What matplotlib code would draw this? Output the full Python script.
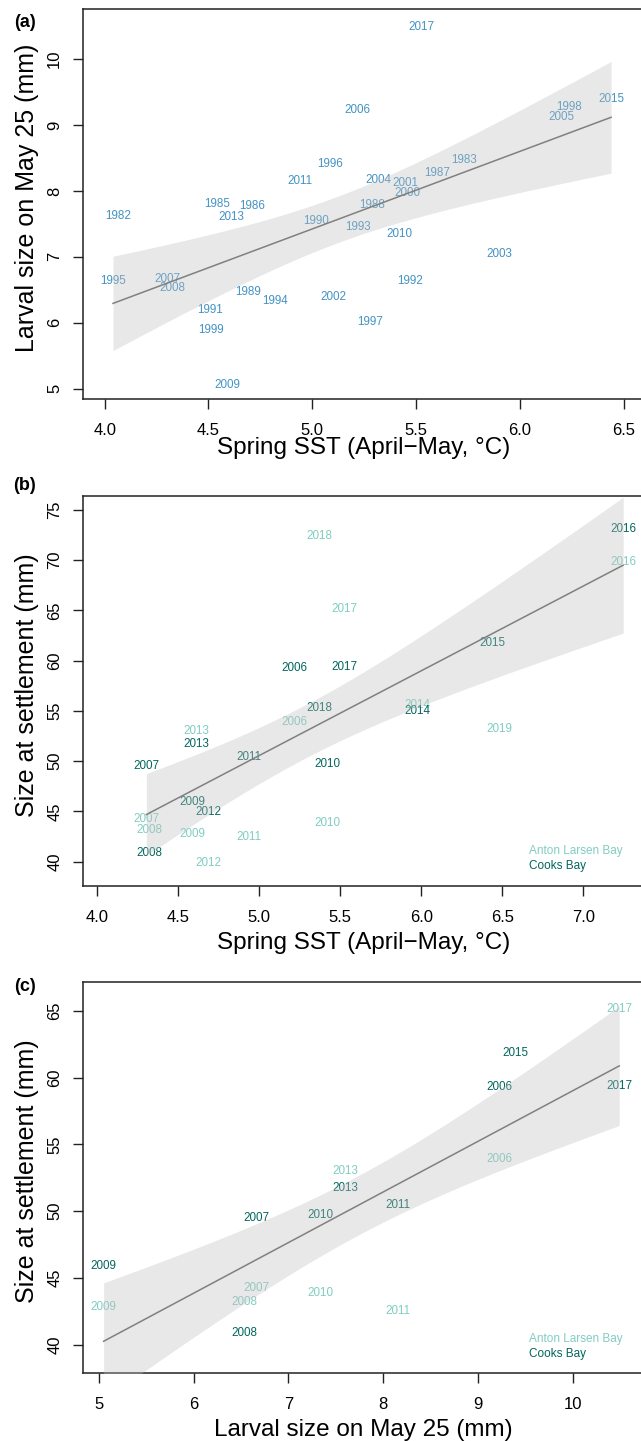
import numpy as np
import matplotlib
matplotlib.use('Agg')
import matplotlib.pyplot as plt

plt.rcParams['font.family'] = ['Liberation Sans', 'DejaVu Sans']

# --- DATA ---
# (a) larval size on May 25 vs spring SST
years_a = [2017, 2006, 2015, 1998, 2005, 1983, 1996, 1987, 2011, 2004, 2001,
           2000, 1985, 1986, 1982, 2013, 1988, 1990, 1993, 2010, 2003, 1995,
           2007, 2008, 1992, 1989, 1994, 2002, 1991, 1997, 1999, 2009]
sst_a = [5.525, 5.217, 6.44, 6.24, 6.20, 5.73, 5.087, 5.60, 4.94, 5.32, 5.45,
         5.46, 4.54, 4.71, 4.065, 4.61, 5.29, 5.02, 5.22, 5.42, 5.90, 4.04,
         4.30, 4.325, 5.47, 4.69, 4.82, 5.10, 4.51, 5.28, 4.51, 4.59]
larval_a = [10.49, 9.226, 9.39, 9.27, 9.12, 8.47, 8.41, 8.27, 8.15, 8.16, 8.12,
            7.97, 7.80, 7.77, 7.62, 7.60, 7.78, 7.54, 7.45, 7.34, 7.04, 6.63,
            6.66, 6.53, 6.64, 6.46, 6.33, 6.39, 6.20, 6.01, 5.89, 5.05]

# (b) size at settlement vs spring SST, both bays
years_b = [2006, 2007, 2008, 2009, 2010, 2011, 2012, 2013, 2014, 2015, 2016,
           2017, 2018, 2019]
sst_b = [5.22, 4.305, 4.325, 4.59, 5.42, 4.94, 4.69, 4.61, 5.975, 6.44, 7.245,
         5.526, 5.374, 6.48]
settle_alb = [53.9, 44.27, 43.2, 42.8, 43.85, 42.5, 39.87, 52.99, 55.6, np.nan,
              69.85, 65.14, 72.41, 53.25]
settle_cb = [59.27, 49.5, 40.88, 45.9, 49.7, 50.43, 44.95, 51.76, 54.97, 61.8,
             73.1, 59.33, 55.34, np.nan]

sites = ['Anton Larsen Bay', 'Cooks Bay']
site_colors = ['#80CDC1', '#01665E']
blue = '#4393C3'

# two-sided 95% t quantiles by residual df
T975 = {15: 2.131, 24: 2.064, 30: 2.042}


def fit_band(x, y):
    x = np.asarray(x, float)
    y = np.asarray(y, float)
    ok = ~np.isnan(x) & ~np.isnan(y)
    x, y = x[ok], y[ok]
    n = len(x)
    b1, b0 = np.polyfit(x, y, 1)
    xs = np.linspace(x.min(), x.max(), 200)
    fit = b0 + b1 * xs
    s = np.sqrt(np.sum((y - (b0 + b1 * x)) ** 2) / (n - 2))
    se = s * np.sqrt(1 / n + (xs - x.mean()) ** 2 / np.sum((x - x.mean()) ** 2))
    t = T975[n - 2]
    return xs, fit, fit - t * se, fit + t * se


def draw_fit(ax, x, y):
    xs, fit, lo, hi = fit_band(x, y)
    ax.fill_between(xs, lo, hi, color='#bebebe', alpha=0.35, lw=0, zorder=3)
    ax.plot(xs, fit, color='#808080', lw=1.1, zorder=4)


def style(ax, xlim, ylim, xticks, yticks, xlabel, ylabel, xl_y, yl_y):
    ax.set_xlim(*xlim)
    ax.set_ylim(*ylim)
    ax.set_xticks(xticks)
    ax.set_yticks(yticks)
    for sp in ax.spines.values():
        sp.set_linewidth(1.1)
        sp.set_color('#222222')
    ax.tick_params(axis='both', direction='out', length=7.2, width=1.0,
                   color='#222222', labelsize=12)
    ax.tick_params(axis='x', pad=10)
    ax.tick_params(axis='y', pad=7.5)
    for lab in ax.get_yticklabels():
        lab.set_rotation(90)
        lab.set_va('center')
    ax.set_xlabel(xlabel, fontsize=17.5)
    ax.xaxis.label.set_va('top')
    ax.xaxis.set_label_coords(0.5, xl_y)
    ax.set_ylabel(ylabel, fontsize=18)
    ax.yaxis.label.set_va('center')
    ax.yaxis.set_label_coords(-0.0995, yl_y)


def site_key(ax, y0, y1):
    ax.text(0.794, y0, sites[0], color=site_colors[0], fontsize=8.5,
            transform=ax.transAxes, ha='left', va='center')
    ax.text(0.794, y1, sites[1], color=site_colors[1], fontsize=8.5,
            transform=ax.transAxes, ha='left', va='center')


W, H = 641, 1441
fig = plt.figure(figsize=(W / 100, H / 100), dpi=100)


def px_axes(left, top, right, bottom):
    return fig.add_axes([left / W, 1 - bottom / H, (right - left) / W,
                         (bottom - top) / H])


lab_size = 8.4

# --- (a) ---
ax1 = px_axes(82.6, 9.3, 645, 399.3)
for yr, x, y in zip(years_a, sst_a, larval_a):
    ax1.text(x, y, str(yr), color=blue, fontsize=lab_size, ha='center',
             va='center', zorder=2)
draw_fit(ax1, sst_a, larval_a)
style(ax1, (3.8935, 6.6036), (4.839, 10.754), np.arange(4.0, 6.51, 0.5),
      range(5, 11), 'Spring SST (April\u2212May, \u00b0C)',
      'Larval size on May 25 (mm)', -0.0967, 0.5177)
ax1.xaxis.set_major_formatter(plt.FormatStrFormatter('%.1f'))

# --- (b) ---
ax2 = px_axes(82.6, 496, 645, 886)
for vals, col in zip([settle_alb, settle_cb], site_colors):
    for yr, x, y in zip(years_b, sst_b, vals):
        if not np.isnan(y):
            ax2.text(x, y, str(yr), color=col, fontsize=lab_size, ha='center',
                     va='center', zorder=2)
draw_fit(ax2, sst_b * 2, settle_alb + settle_cb)
style(ax2, (3.9118, 7.3797), (37.58, 76.39), np.arange(4.0, 7.01, 0.5),
      range(40, 76, 5), 'Spring SST (April\u2212May, \u00b0C)',
      'Size at settlement (mm)', -0.1172, 0.514)
ax2.xaxis.set_major_formatter(plt.FormatStrFormatter('%.1f'))
site_key(ax2, 0.0897, 0.0513)

# --- (c) ---
larval_by_year = dict(zip(years_a, larval_a))
ax3 = px_axes(82.6, 982, 645, 1372.7)
xc, yc = [], []
for vals, col in zip([settle_alb, settle_cb], site_colors):
    for yr, y in zip(years_b, vals):
        if yr in larval_by_year and not np.isnan(y):
            x = larval_by_year[yr]
            ax3.text(x, y, str(yr), color=col, fontsize=lab_size, ha='center',
                     va='center', zorder=2)
            xc.append(x)
            yc.append(y)
draw_fit(ax3, xc, yc)
style(ax3, (4.828, 10.762), (37.9, 67.15), range(5, 11), range(40, 66, 5),
      'Larval size on May 25 (mm)', 'Size at settlement (mm)',
      -0.1185, 0.5168)
site_key(ax3, 0.0863, 0.0479)

for lab, ypx in zip(['(a)', '(b)', '(c)'], [22.3, 485, 986.7]):
    fig.text(24.7 / W, 1 - ypx / H, lab, fontsize=13, fontweight='bold',
             ha='center', va='center')

fig.savefig('out.png', dpi=100)
